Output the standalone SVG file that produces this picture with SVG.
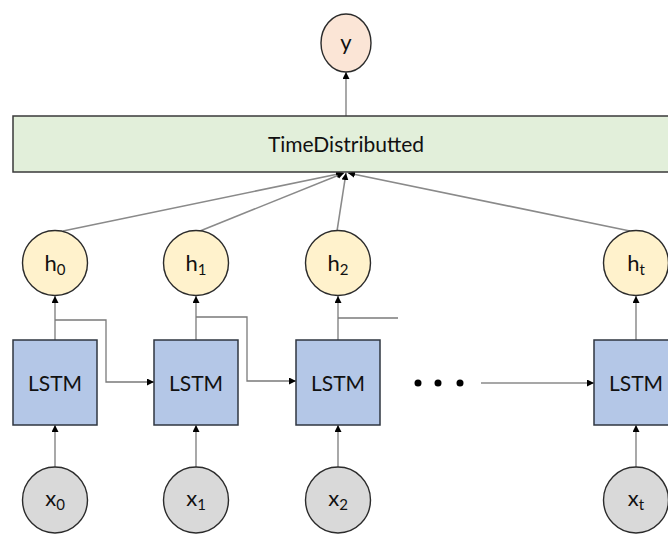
<svg xmlns="http://www.w3.org/2000/svg" width="668" height="536" viewBox="0 0 668 536">
<style>
.t{font-family:Lato,"Open Sans","Liberation Sans",sans-serif;fill:#111}
.lbl{font-size:22px;text-anchor:middle}
.ls{font-size:21px}
.sub{font-size:15px}
.node{stroke:#2b2b2b;stroke-width:1.4}
.box{fill:#b4c7e7;stroke:#2f3640;stroke-width:1.5}
.hc{fill:#fff2cc}
.xc{fill:#d9d9d9}
.c{fill:none;stroke:#7a7a7a;stroke-width:1.3}
.c2{fill:none;stroke:#8a8a8a;stroke-width:1.6}
</style>
<defs>
<marker id="ah" viewBox="0 0 10 10" refX="10" refY="5" markerWidth="7" markerHeight="7" orient="auto" markerUnits="userSpaceOnUse">
<path d="M0,0 L10,5 L0,10 z" fill="#000"/>
</marker>
</defs>
<g id="connectors">
<line class="c" x1="346" y1="116" x2="346" y2="72" marker-end="url(#ah)"/>
<line class="c2" x1="63" y1="231" x2="343" y2="173" marker-end="url(#ah)"/>
<line class="c2" x1="200" y1="231" x2="344" y2="173" marker-end="url(#ah)"/>
<line class="c2" x1="337" y1="231" x2="346" y2="173" marker-end="url(#ah)"/>
<line class="c2" x1="630" y1="231" x2="348" y2="173" marker-end="url(#ah)"/>
<line class="c" x1="55" y1="340" x2="55" y2="296" marker-end="url(#ah)"/>
<line class="c" x1="196" y1="340" x2="196" y2="296" marker-end="url(#ah)"/>
<line class="c" x1="338" y1="340" x2="338" y2="296" marker-end="url(#ah)"/>
<line class="c" x1="636" y1="340" x2="636" y2="296" marker-end="url(#ah)"/>
<polyline class="c" points="55,320 106,320 106,382 154,382" marker-end="url(#ah)"/>
<polyline class="c" points="196,317 247,317 247,381 296,381" marker-end="url(#ah)"/>
<line class="c" x1="338" y1="318" x2="398" y2="318"/>
<line class="c2" x1="481" y1="383" x2="594" y2="383" marker-end="url(#ah)"/>
<line class="c" x1="55" y1="467" x2="55" y2="425" marker-end="url(#ah)"/>
<line class="c" x1="196" y1="467" x2="196" y2="425" marker-end="url(#ah)"/>
<line class="c" x1="338" y1="467" x2="338" y2="425" marker-end="url(#ah)"/>
<line class="c" x1="636" y1="467" x2="636" y2="425" marker-end="url(#ah)"/>
</g>
<g id="dots" fill="#000">
<circle cx="418" cy="383" r="3.5"/>
<circle cx="438" cy="383" r="3.5"/>
<circle cx="460" cy="383" r="3.5"/>
</g>
<g id="y">
<ellipse class="node" cx="346" cy="43" rx="25" ry="29" fill="#fbe5d6"/>
<text class="t lbl" x="346" y="50">y</text>
</g>
<g id="timedistributed">
<rect x="13" y="116" width="670" height="56" fill="#e2efda" stroke="#3a3a3a" stroke-width="1.5"/>
<text class="t lbl" x="346" y="152" style="font-size:21px">TimeDistributted</text>
</g>
<g id="h0"><circle class="node hc" cx="55" cy="263" r="32.5"/><text class="t lbl" x="55" y="271">h<tspan class="sub" dy="4">0</tspan></text></g>
<g id="h1"><circle class="node hc" cx="196" cy="263" r="32.5"/><text class="t lbl" x="196" y="271">h<tspan class="sub" dy="4">1</tspan></text></g>
<g id="h2"><circle class="node hc" cx="338" cy="263" r="32.5"/><text class="t lbl" x="338" y="271">h<tspan class="sub" dy="4">2</tspan></text></g>
<g id="ht"><circle class="node hc" cx="636" cy="263" r="32.5"/><text class="t lbl" x="636" y="271">h<tspan class="sub" dy="4">t</tspan></text></g>
<g id="lstm0"><rect class="box" x="13" y="340" width="84" height="85"/><text class="t lbl ls" x="55" y="391">LSTM</text></g>
<g id="lstm1"><rect class="box" x="154" y="340" width="84" height="85"/><text class="t lbl ls" x="196" y="391">LSTM</text></g>
<g id="lstm2"><rect class="box" x="296" y="340" width="84" height="85"/><text class="t lbl ls" x="338" y="391">LSTM</text></g>
<g id="lstmt"><rect class="box" x="594" y="340" width="84" height="85"/><text class="t lbl ls" x="636" y="391">LSTM</text></g>
<g id="x0"><ellipse class="node xc" cx="55" cy="500" rx="32.5" ry="33"/><text class="t lbl" x="55" y="506">x<tspan class="sub" dy="4">0</tspan></text></g>
<g id="x1"><ellipse class="node xc" cx="196" cy="500" rx="32.5" ry="33"/><text class="t lbl" x="196" y="506">x<tspan class="sub" dy="4">1</tspan></text></g>
<g id="x2"><ellipse class="node xc" cx="338" cy="500" rx="32.5" ry="33"/><text class="t lbl" x="338" y="506">x<tspan class="sub" dy="4">2</tspan></text></g>
<g id="xt"><ellipse class="node xc" cx="636" cy="500" rx="32.5" ry="33"/><text class="t lbl" x="636" y="506">x<tspan class="sub" dy="4">t</tspan></text></g>
</svg>
